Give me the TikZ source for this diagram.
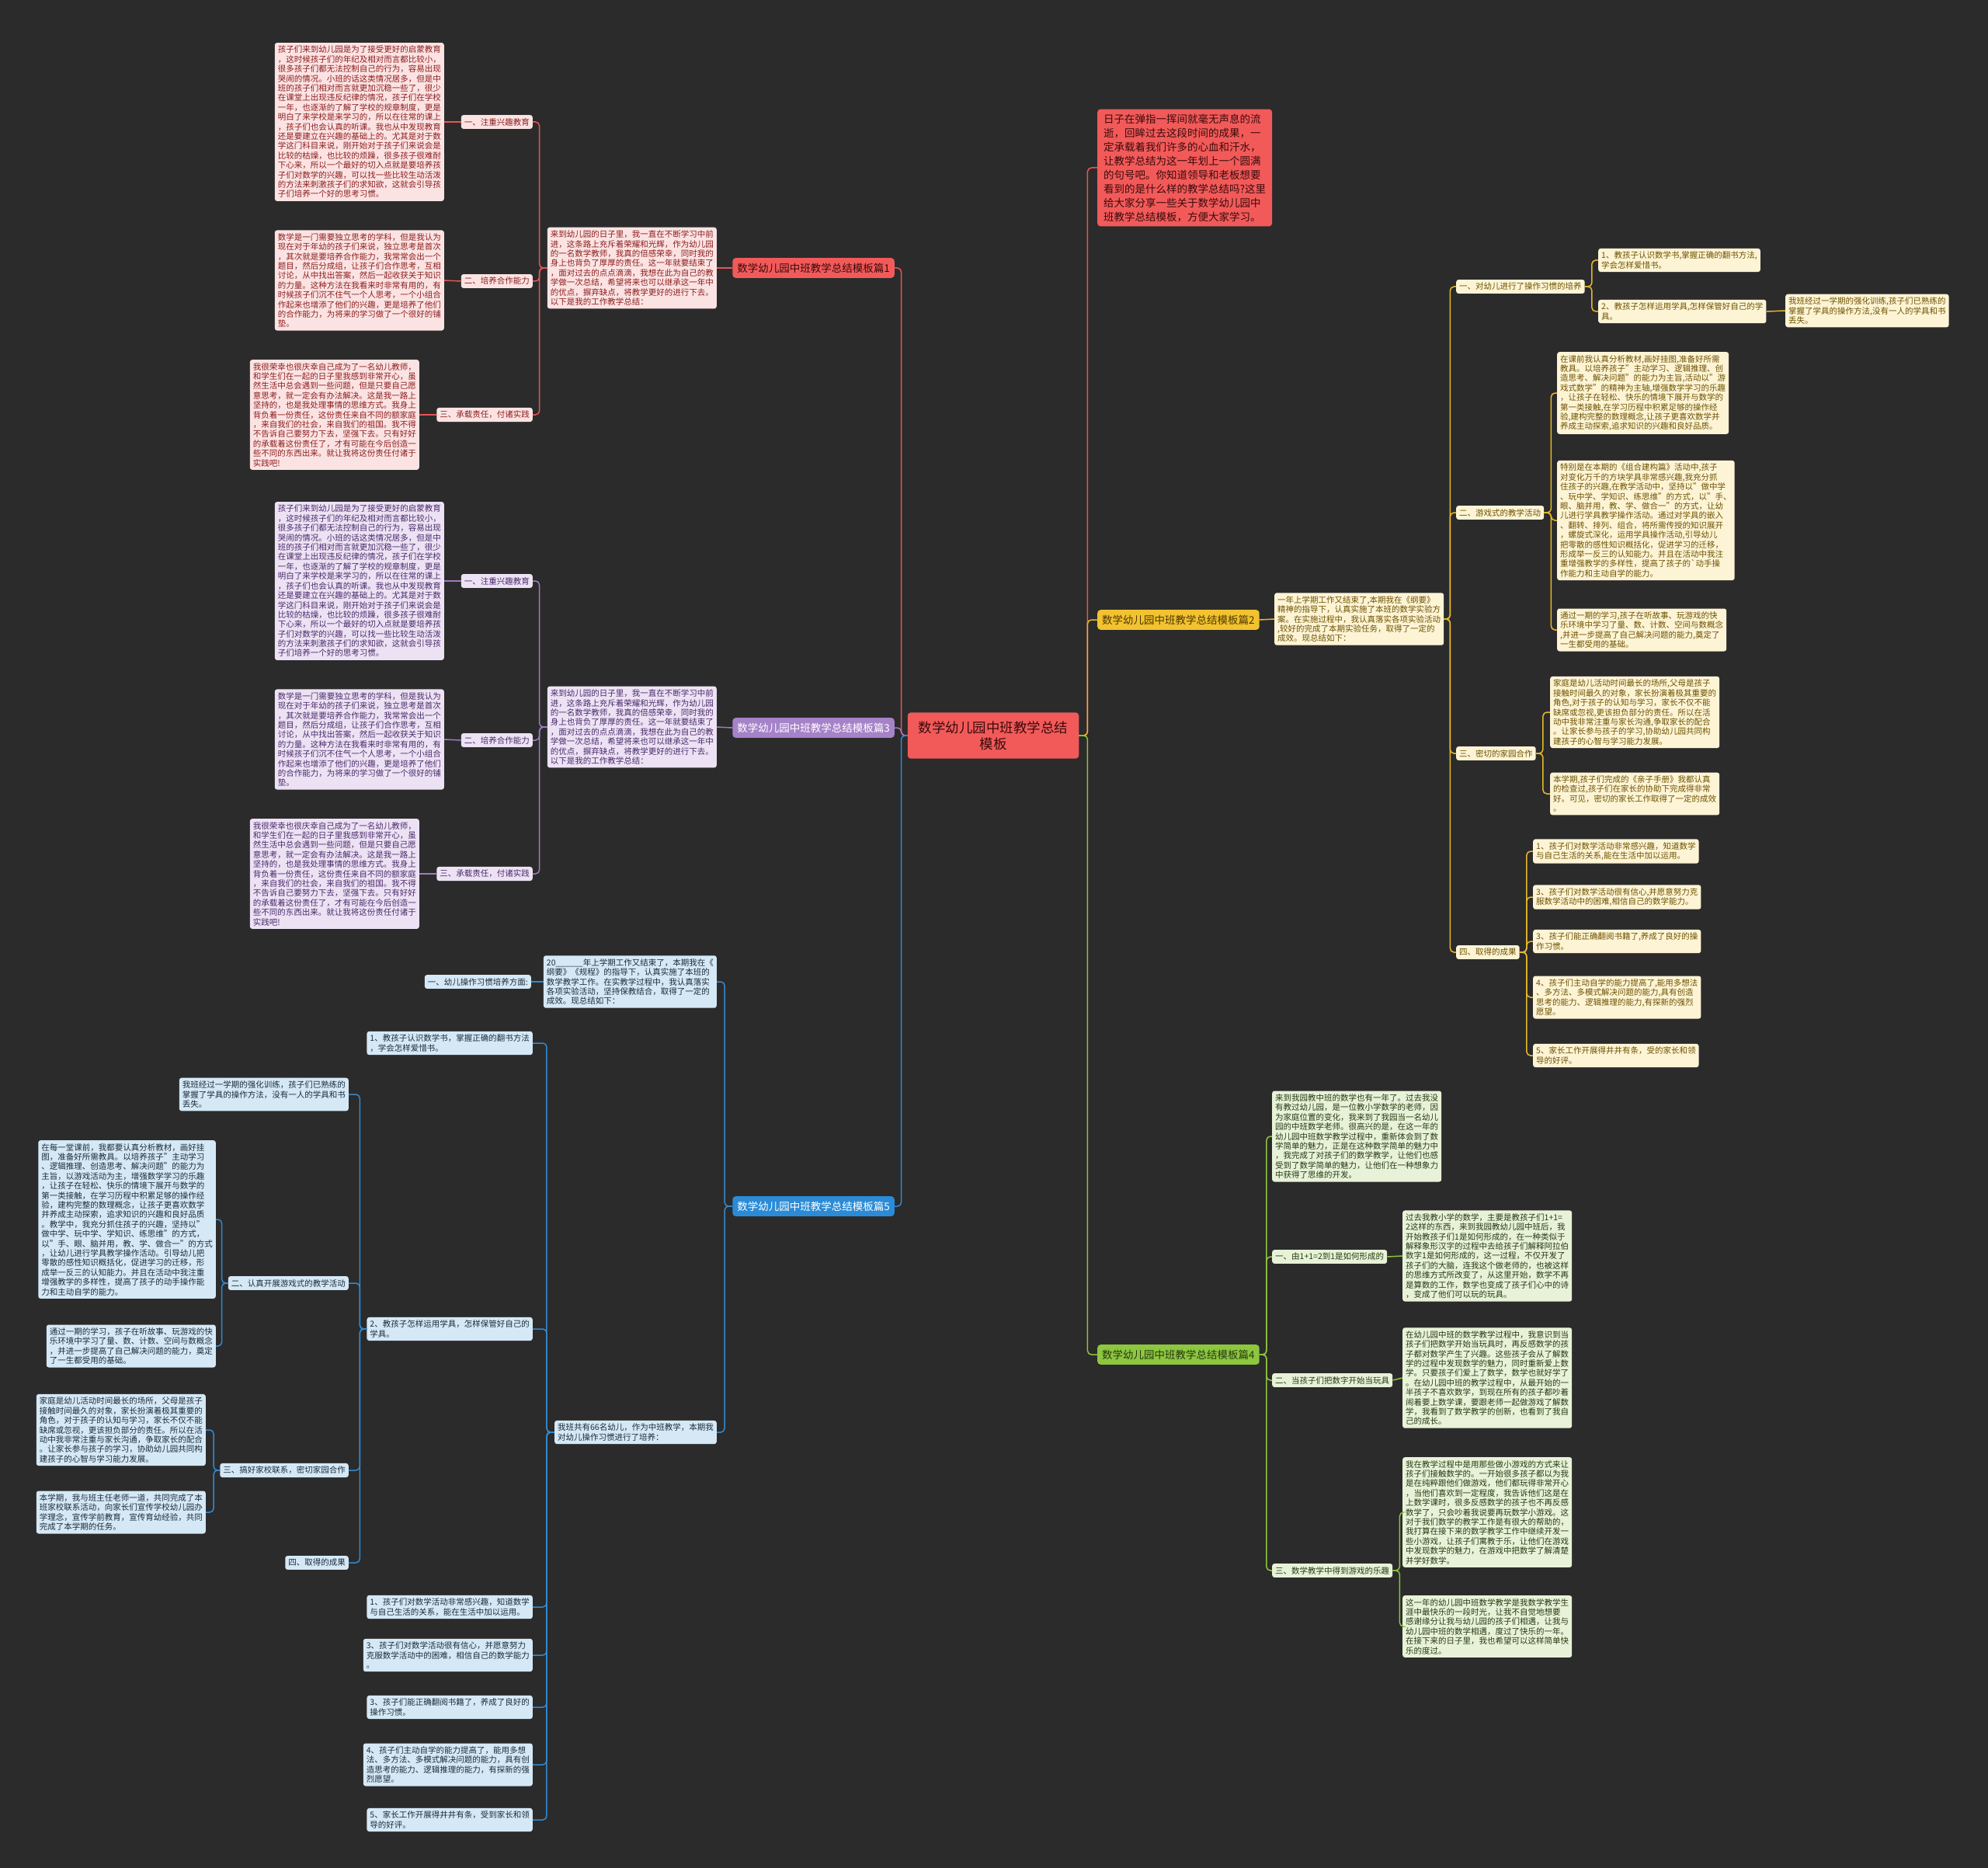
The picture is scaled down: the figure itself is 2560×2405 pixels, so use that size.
\documentclass[tikz,border=0pt]{standalone}
\usepackage{fontspec}
\setmainfont{Noto Sans CJK SC}
\usepackage{xcolor}
\usepackage{tikz}
\definecolor{bgc}{HTML}{2B2B2B}
\definecolor{redmain}{HTML}{F25A5A}
\definecolor{redfill}{HTML}{FCE3E3}
\definecolor{redtext}{HTML}{8B1E1E}
\definecolor{redhtext}{HTML}{3A0A0A}
\definecolor{redline}{HTML}{E85555}
\definecolor{purmain}{HTML}{A682C8}
\definecolor{purfill}{HTML}{ECE2F4}
\definecolor{purtext}{HTML}{4B2A6A}
\definecolor{purline}{HTML}{9D7BC0}
\definecolor{blumain}{HTML}{2B8BD6}
\definecolor{blufill}{HTML}{D5E8F5}
\definecolor{blutext}{HTML}{1C2C3C}
\definecolor{bluline}{HTML}{3389CF}
\definecolor{yelmain}{HTML}{F2C230}
\definecolor{yelfill}{HTML}{FDF4D6}
\definecolor{yeltext}{HTML}{6E5200}
\definecolor{yelline}{HTML}{E6B82A}
\definecolor{grnmain}{HTML}{8DC63F}
\definecolor{grnfill}{HTML}{E7F2D8}
\definecolor{grntext}{HTML}{263A12}
\definecolor{grnline}{HTML}{8CC43E}
\tikzset{
  txt/.style   = {rectangle, rounded corners=3pt, align=left, inner xsep=4pt,
                  inner ysep=4pt, font=\fontsize{10.5}{12.4}\selectfont},
  rbox/.style  = {txt, fill=redfill, text=redtext},
  pbox/.style  = {txt, fill=purfill, text=purtext},
  bbox/.style  = {txt, fill=blufill, text=blutext},
  ybox/.style  = {txt, fill=yelfill, text=yeltext},
  gbox/.style  = {txt, fill=grnfill, text=grntext},
  head/.style  = {rectangle, rounded corners=4pt, inner xsep=6pt, inner ysep=6.5pt,
                  font=\fontsize{13.5}{16}\selectfont},
  rhead/.style = {head, fill=redmain, text=redhtext},
  phead/.style = {head, fill=purmain, text=white},
  bhead/.style = {head, fill=blumain, text=white},
  yhead/.style = {head, fill=yelmain, text=yeltext!70!black},
  ghead/.style = {head, fill=grnmain, text=grntext},
  root/.style  = {rectangle, rounded corners=4pt, fill=redmain, text=redhtext,
                  align=center, inner xsep=14pt, inner ysep=11pt,
                  font=\fontsize{17.5}{21}\selectfont},
  lft/.style   = {anchor=east},
  rgt/.style   = {anchor=west},
  link/.style  = {rounded corners=5pt, line width=1.5pt},
  rlink/.style = {link, draw=redline},
  plink/.style = {link, draw=purline},
  blink/.style = {link, draw=bluline},
  ylink/.style = {link, draw=yelline},
  glink/.style = {link, draw=grnline}
}
% texts shared by the first and the third branch
\newcommand{\introText}{来到幼儿园的日子里，我一直在不断学习中前\\进，这条路上充斥着荣耀和光辉，作为幼儿园\\的一名数学教师，我真的倍感荣幸，同时我的\\身上也背负了厚厚的责任。这一年就要结束了\\，面对过去的点点滴滴，我想在此为自己的教\\学做一次总结，希望将来也可以继承这一年中\\的优点，摒弃缺点，将教学更好的进行下去。\\以下是我的工作教学总结：}
\newcommand{\interestText}{孩子们来到幼儿园是为了接受更好的启蒙教育\\，这时候孩子们的年纪及相对而言都比较小，\\很多孩子们都无法控制自己的行为，容易出现\\哭闹的情况。小班的话这类情况居多，但是中\\班的孩子们相对而言就更加沉稳一些了，很少\\在课堂上出现违反纪律的情况，孩子们在学校\\一年，也逐渐的了解了学校的规章制度，更是\\明白了来学校是来学习的，所以在往常的课上\\，孩子们也会认真的听课。我也从中发现教育\\还是要建立在兴趣的基础上的。尤其是对于数\\学这门科目来说，刚开始对于孩子们来说会是\\比较的枯燥，也比较的烦躁，很多孩子很难耐\\下心来，所以一个最好的切入点就是要培养孩\\子们对数学的兴趣，可以找一些比较生动活泼\\的方法来刺激孩子们的求知欲，这就会引导孩\\子们培养一个好的思考习惯。}
\newcommand{\teamText}{数学是一门需要独立思考的学科，但是我认为\\现在对于年幼的孩子们来说，独立思考是首次\\，其次就是要培养合作能力，我常常会出一个\\题目，然后分成组，让孩子们合作思考，互相\\讨论，从中找出答案，然后一起收获关于知识\\的力量。这种方法在我看来时非常有用的，有\\时候孩子们沉不住气一个人思考，一个小组合\\作起来也增添了他们的兴趣，更是培养了他们\\的合作能力，为将来的学习做了一个很好的铺\\垫。}
\newcommand{\dutyText}{我很荣幸也很庆幸自己成为了一名幼儿教师，\\和学生们在一起的日子里我感到非常开心，虽\\然生活中总会遇到一些问题，但是只要自己愿\\意思考，就一定会有办法解决。这是我一路上\\坚持的，也是我处理事情的思维方式。我身上\\背负着一份责任，这份责任来自不同的额家庭\\，来自我们的社会，来自我们的祖国。我不得\\不告诉自己要努力下去，坚强下去。只有好好\\的承载着这份责任了，才有可能在今后创造一\\些不同的东西出来。就让我将这份责任付诸于\\实践吧!}
\begin{document}
\begin{tikzpicture}[x=1pt, y=-1pt]
  \useasboundingbox (0,0) rectangle (2560,2405);
  \fill[bgc] (0,0) rectangle (2560,2405);

  \node[root] (root) at (1279,947) {数学幼儿园中班教学总结\\模板};

  % branch 1
  \node[rhead, lft] (h1)     at (1152,345) {数学幼儿园中班教学总结模板篇1};
  \node[rbox, lft]  (intro1) at (923,345) {\introText};
  \node[rbox, lft]  (l1a)    at (686,157) {一、注重兴趣教育};
  \node[rbox, lft]  (t1a)    at (572,157) {\interestText};
  \node[rbox, lft]  (l1b)    at (686,362) {二、培养合作能力};
  \node[rbox, lft]  (t1b)    at (572,361) {\teamText};
  \node[rbox, lft]  (l1c)    at (686,534) {三、承载责任，付诸实践};
  \node[rbox, lft]  (t1c)    at (540,534) {\dutyText};

  % branch 3
  \node[phead, lft] (h3)     at (1152,937) {数学幼儿园中班教学总结模板篇3};
  \node[pbox, lft]  (intro3) at (923,936) {\introText};
  \node[pbox, lft]  (l3a)    at (686,748) {一、注重兴趣教育};
  \node[pbox, lft]  (t3a)    at (572,748) {\interestText};
  \node[pbox, lft]  (l3b)    at (686,953) {二、培养合作能力};
  \node[pbox, lft]  (t3b)    at (572,952) {\teamText};
  \node[pbox, lft]  (l3c)    at (686,1125) {三、承载责任，付诸实践};
  \node[pbox, lft]  (t3c)    at (540,1125) {\dutyText};

  % branch 5
  \node[bhead, lft] (h5)     at (1152,1553) {数学幼儿园中班教学总结模板篇5};
  \node[bbox, lft]  (intro5) at (923,1264) {20\_\_\_\_\_\_年上学期工作又结束了，本期我在《\\纲要》《规程》的指导下，认真实施了本班的\\数学教学工作。在实教学过程中，我认真落实\\各项实验活动，坚持保教结合，取得了一定的\\成效。现总结如下：};
  \node[bbox, lft]  (l5a)    at (684,1264) {一、幼儿操作习惯培养方面:};
  \node[bbox, lft]  (b5)     at (923,1844) {我班共有66名幼儿，作为中班教学，本期我\\对幼儿操作习惯进行了培养：};
  \node[bbox, lft]  (i5a)    at (686,1343) {1、教孩子认识数学书，掌握正确的翻书方法\\，学会怎样爱惜书。};
  \node[bbox, lft]  (i5b)    at (686,1711) {2、教孩子怎样运用学具，怎样保管好自己的\\学具。};
  \node[bbox, lft]  (t5w)    at (449,1409) {我班经过一学期的强化训练，孩子们已熟练的\\掌握了学具的操作方法，没有一人的学具和书\\丢失。};
  \node[bbox, lft]  (l5b)    at (449,1652) {二、认真开展游戏式的教学活动};
  \node[bbox, lft]  (t5b1)   at (278,1570) {在每一堂课前，我都要认真分析教材，画好挂\\图，准备好所需教具。以培养孩子"主动学习\\、逻辑推理、创造思考、解决问题"的能力为\\主旨，以游戏活动为主，增强数学学习的乐趣\\，让孩子在轻松、快乐的情境下展开与数学的\\第一类接触，在学习历程中积累足够的操作经\\验，建构完整的数理概念，让孩子更喜欢数学\\并养成主动探索，追求知识的兴趣和良好品质\\。教学中，我充分抓住孩子的兴趣，坚持以"\\做中学、玩中学、学知识、练思维"的方式，\\以"手、眼、脑并用，教、学、做合一"的方式\\，让幼儿进行学具教学操作活动。引导幼儿把\\零散的感性知识概括化，促进学习的迁移，形\\成举一反三的认知能力。并且在活动中我注重\\增强教学的多样性，提高了孩子的动手操作能\\力和主动自学的能力。};
  \node[bbox, lft]  (t5b2)   at (278,1733) {通过一期的学习，孩子在听故事、玩游戏的快\\乐环境中学习了量、数、计数、空间与数概念\\，并进一步提高了自己解决问题的能力，奠定\\了一生都受用的基础。};
  \node[bbox, lft]  (l5c)    at (449,1893) {三、搞好家校联系，密切家园合作};
  \node[bbox, lft]  (t5c1)   at (265,1841) {家庭是幼儿活动时间最长的场所，父母是孩子\\接触时间最久的对象，家长扮演着极其重要的\\角色，对于孩子的认知与学习，家长不仅不能\\缺席或忽视，更该担负部分的责任。所以在活\\动中我非常注重与家长沟通，争取家长的配合\\。让家长参与孩子的学习，协助幼儿园共同构\\建孩子的心智与学习能力发展。};
  \node[bbox, lft]  (t5c2)   at (265,1947) {本学期，我与班主任老师一道，共同完成了本\\班家校联系活动，向家长们宣传学校幼儿园办\\学理念，宣传学前教育，宣传育幼经验，共同\\完成了本学期的任务。};
  \node[bbox, lft]  (l5d)    at (449,2012) {四、取得的成果};
  \node[bbox, lft]  (r5a)    at (686,2069) {1、孩子们对数学活动非常感兴趣，知道数学\\与自己生活的关系，能在生活中加以运用。};
  \node[bbox, lft]  (r5b)    at (686,2131) {3、孩子们对数学活动很有信心，并愿意努力\\克服数学活动中的困难，相信自己的数学能力\\。};
  \node[bbox, lft]  (r5c)    at (686,2198) {3、孩子们能正确翻阅书籍了，养成了良好的\\操作习惯。};
  \node[bbox, lft]  (r5d)    at (686,2272) {4、孩子们主动自学的能力提高了，能用多想\\法、多方法、多模式解决问题的能力，具有创\\造思考的能力、逻辑推理的能力，有探新的强\\烈愿望。};
  \node[bbox, lft]  (r5e)    at (686,2343) {5、家长工作开展得井井有条，受到家长和领\\导的好评。};

  % top note
  \node[rectangle, rounded corners=4pt, fill=redmain, text=redhtext, align=left,
        inner xsep=8pt, inner ysep=6pt, font=\fontsize{13.5}{18}\selectfont, rgt]
        (note) at (1413,216) {日子在弹指一挥间就毫无声息的流\\逝，回眸过去这段时间的成果，一\\定承载着我们许多的心血和汗水，\\让教学总结为这一年划上一个圆满\\的句号吧。你知道领导和老板想要\\看到的是什么样的教学总结吗?这里\\给大家分享一些关于数学幼儿园中\\班教学总结模板，方便大家学习。};

  % branch 2
  \node[yhead, rgt] (h2)     at (1413,798) {数学幼儿园中班教学总结模板篇2};
  \node[ybox, rgt]  (intro2) at (1641,797) {一年上学期工作又结束了,本期我在《纲要》\\精神的指导下，认真实施了本班的数学实验方\\案。在实施过程中，我认真落实各项实验活动\\,较好的完成了本期实验任务，取得了一定的\\成效。现总结如下：};
  \node[ybox, rgt]  (l2a)    at (1875,369) {一、对幼儿进行了操作习惯的培养};
  \node[ybox, rgt]  (i2a)    at (2058,335) {1、教孩子认识数学书,掌握正确的翻书方法,\\学会怎样爱惜书。};
  \node[ybox, rgt]  (i2b)    at (2058,401) {2、教孩子怎样运用学具,怎样保管好自己的学\\具。};
  \node[ybox, rgt]  (t2w)    at (2299,400) {我班经过一学期的强化训练,孩子们已熟练的\\掌握了学具的操作方法,没有一人的学具和书\\丢失。};
  \node[ybox, rgt]  (l2b)    at (1875,660) {二、游戏式的教学活动};
  \node[ybox, rgt]  (t2b1)   at (2005,506) {在课前我认真分析教材,画好挂图,准备好所需\\教具。以培养孩子"主动学习、逻辑推理、创\\造思考、解决问题"的能力为主旨,活动以"游\\戏式数学"的精神为主轴,增强数学学习的乐趣\\，让孩子在轻松、快乐的情境下展开与数学的\\第一类接触,在学习历程中积累足够的操作经\\验,建构完整的数理概念,让孩子更喜欢数学并\\养成主动探索,追求知识的兴趣和良好品质。};
  \node[ybox, rgt]  (t2b2)   at (2005,670) {特别是在本期的《组合建构篇》活动中,孩子\\对变化万千的方块学具非常感兴趣,我充分抓\\住孩子的兴趣,在教学活动中，坚持以"做中学\\、玩中学、学知识、练思维"的方式，以"手、\\眼、脑并用，教、学、做合一"的方式，让幼\\儿进行学具教学操作活动。通过对学具的嵌入\\、翻转、排列、组合，将所需传授的知识展开\\，螺旋式深化，运用学具操作活动,引导幼儿\\把零散的感性知识概括化，促进学习的迁移，\\形成举一反三的认知能力。并且在活动中我注\\重增强教学的多样性，提高了孩子的\textasciigrave 动手操\\作能力和主动自学的能力。};
  \node[ybox, rgt]  (t2b3)   at (2005,811) {通过一期的学习,孩子在听故事、玩游戏的快\\乐环境中学习了量、数、计数、空间与数概念\\,并进一步提高了自己解决问题的能力,奠定了\\一生都受用的基础。};
  \node[ybox, rgt]  (l2c)    at (1875,970) {三、密切的家园合作};
  \node[ybox, rgt]  (t2c1)   at (1996,917) {家庭是幼儿活动时间最长的场所,父母是孩子\\接触时间最久的对象，家长扮演着极其重要的\\角色,对于孩子的认知与学习，家长不仅不能\\缺席或忽视,更该担负部分的责任。所以在活\\动中我非常注重与家长沟通,争取家长的配合\\。让家长参与孩子的学习,协助幼儿园共同构\\建孩子的心智与学习能力发展。};
  \node[ybox, rgt]  (t2c2)   at (1996,1022) {本学期,孩子们完成的《亲子手册》我都认真\\的检查过,孩子们在家长的协助下完成得非常\\好。可见，密切的家长工作取得了一定的成效\\。};
  \node[ybox, rgt]  (l2d)    at (1875,1226) {四、取得的成果};
  \node[ybox, rgt]  (r2a)    at (1974,1096) {1、孩子们对数学活动非常感兴趣，知道数学\\与自己生活的关系,能在生活中加以运用。};
  \node[ybox, rgt]  (r2b)    at (1974,1155) {3、孩子们对数学活动很有信心,并愿意努力克\\服数学活动中的困难,相信自己的数学能力。};
  \node[ybox, rgt]  (r2c)    at (1974,1212) {3、孩子们能正确翻阅书籍了,养成了良好的操\\作习惯。};
  \node[ybox, rgt]  (r2d)    at (1974,1284) {4、孩子们主动自学的能力提高了,能用多想法\\、多方法、多模式解决问题的能力,具有创造\\思考的能力、逻辑推理的能力,有探新的强烈\\愿望。};
  \node[ybox, rgt]  (r2e)    at (1974,1359) {5、家长工作开展得井井有条，受的家长和领\\导的好评。};

  % branch 4
  \node[ghead, rgt] (h4)     at (1413,1744) {数学幼儿园中班教学总结模板篇4};
  \node[gbox, rgt]  (t4i)    at (1638,1463) {来到我园教中班的数学也有一年了。过去我没\\有教过幼儿园，是一位教小学数学的老师，因\\为家庭位置的变化，我来到了我园当一名幼儿\\园的中班数学老师。很高兴的是，在这一年的\\幼儿园中班数学教学过程中，重新体会到了数\\学简单的魅力，正是在这种数学简单的魅力中\\，我完成了对孩子们的数学教学，让他们也感\\受到了数学简单的魅力，让他们在一种想象力\\中获得了思维的开发。};
  \node[gbox, rgt]  (l4a)    at (1638,1618) {一、由1+1=2到1是如何形成的};
  \node[gbox, rgt]  (t4a)    at (1806,1617) {过去我教小学的数学，主要是教孩子们1+1=\\2这样的东西，来到我园教幼儿园中班后，我\\开始教孩子们1是如何形成的，在一种类似于\\解释象形汉字的过程中去给孩子们解释阿拉伯\\数字1是如何形成的，这一过程，不仅开发了\\孩子们的大脑，连我这个做老师的，也被这样\\的思维方式所改变了，从这里开始，数学不再\\是算数的工作，数学也变成了孩子们心中的诗\\，变成了他们可以玩的玩具。};
  \node[gbox, rgt]  (l4b)    at (1638,1777) {二、当孩子们把数字开始当玩具};
  \node[gbox, rgt]  (t4b)    at (1806,1774) {在幼儿园中班的数学教学过程中，我意识到当\\孩子们把数学开始当玩具时，再反感数学的孩\\子都对数学产生了兴趣。这些孩子会从了解数\\学的过程中发现数学的魅力，同时重新爱上数\\学。只要孩子们爱上了数学，数学也就好学了\\。在幼儿园中班的教学过程中，从最开始的一\\半孩子不喜欢数学，到现在所有的孩子都吵着\\闹着要上数学课，要跟老师一起做游戏了解数\\学，我看到了数学教学的创新，也看到了我自\\己的成长。};
  \node[gbox, rgt]  (l4c)    at (1638,2022) {三、数学教学中得到游戏的乐趣};
  \node[gbox, rgt]  (t4c1)   at (1806,1947) {我在教学过程中是用那些做小游戏的方式来让\\孩子们接触数学的。一开始很多孩子都以为我\\是在纯粹跟他们做游戏，他们都玩得非常开心\\，当他们喜欢到一定程度，我告诉他们这是在\\上数学课时，很多反感数学的孩子也不再反感\\数学了，只会吵着我说要再玩数学小游戏。这\\对于我们数学的教学工作是有很大的帮助的，\\我打算在接下来的数学教学工作中继续开发一\\些小游戏，让孩子们寓教于乐，让他们在游戏\\中发现数学的魅力，在游戏中把数学了解清楚\\并学好数学。};
  \node[gbox, rgt]  (t4c2)   at (1806,2094) {这一年的幼儿园中班数学教学是我数学教学生\\涯中最快乐的一段时光，让我不自觉地想要\\感谢缘分让我与幼儿园的孩子们相遇，让我与\\幼儿园中班的数学相遇，度过了快乐的一年。\\在接下来的日子里，我也希望可以这样简单快\\乐的度过。};

  % root links
  \draw[rlink] (root.west) -- ++(-8,0) |- (h1.east);
  \draw[plink] (root.west) -- ++(-8,0) |- (h3.east);
  \draw[blink] (root.west) -- ++(-8,0) |- (h5.east);
  \draw[rlink] (root.east) -- ++(11,0) |- (note.west);
  \draw[ylink] (root.east) -- ++(11,0) |- (h2.west);
  \draw[glink] (root.east) -- ++(11,0) |- (h4.west);

  % branch 1 links
  \draw[rlink] (h1.west) -- (intro1.east);
  \draw[rlink] (intro1.west) -- ++(-10,0) |- (l1a.east);
  \draw[rlink] (intro1.west) -- ++(-10,0) |- (l1b.east);
  \draw[rlink] (intro1.west) -- ++(-10,0) |- (l1c.east);
  \draw[rlink] (l1a.west) -- (t1a.east);
  \draw[rlink] (l1b.west) -- (t1b.east);
  \draw[rlink] (l1c.west) -- (t1c.east);

  % branch 3 links
  \draw[plink] (h3.west) -- (intro3.east);
  \draw[plink] (intro3.west) -- ++(-10,0) |- (l3a.east);
  \draw[plink] (intro3.west) -- ++(-10,0) |- (l3b.east);
  \draw[plink] (intro3.west) -- ++(-10,0) |- (l3c.east);
  \draw[plink] (l3a.west) -- (t3a.east);
  \draw[plink] (l3b.west) -- (t3b.east);
  \draw[plink] (l3c.west) -- (t3c.east);

  % branch 5 links
  \draw[blink] (h5.west) -- ++(-10,0) |- (intro5.east);
  \draw[blink] (h5.west) -- ++(-10,0) |- (b5.east);
  \draw[blink] (intro5.west) -- (l5a.east);
  \draw[blink] (b5.west) -- ++(-10,0) |- (i5a.east);
  \draw[blink] (b5.west) -- ++(-10,0) |- (i5b.east);
  \draw[blink] (b5.west) -- ++(-10,0) |- (r5a.east);
  \draw[blink] (b5.west) -- ++(-10,0) |- (r5b.east);
  \draw[blink] (b5.west) -- ++(-10,0) |- (r5c.east);
  \draw[blink] (b5.west) -- ++(-10,0) |- (r5d.east);
  \draw[blink] (b5.west) -- ++(-10,0) |- (r5e.east);
  \draw[blink] (i5b.west) -- ++(-9,0) |- (t5w.east);
  \draw[blink] (i5b.west) -- ++(-9,0) |- (l5b.east);
  \draw[blink] (i5b.west) -- ++(-9,0) |- (l5c.east);
  \draw[blink] (i5b.west) -- ++(-9,0) |- (l5d.east);
  \draw[blink] (l5b.west) -- ++(-8,0) |- (t5b1.east);
  \draw[blink] (l5b.west) -- ++(-8,0) |- (t5b2.east);
  \draw[blink] (l5c.west) -- ++(-8,0) |- (t5c1.east);
  \draw[blink] (l5c.west) -- ++(-8,0) |- (t5c2.east);

  % branch 2 links
  \draw[ylink] (h2.east) -- (intro2.west);
  \draw[ylink] (intro2.east) -- ++(8,0) |- (l2a.west);
  \draw[ylink] (intro2.east) -- ++(8,0) |- (l2b.west);
  \draw[ylink] (intro2.east) -- ++(8,0) |- (l2c.west);
  \draw[ylink] (intro2.east) -- ++(8,0) |- (l2d.west);
  \draw[ylink] (l2a.east) -- ++(9,0) |- (i2a.west);
  \draw[ylink] (l2a.east) -- ++(9,0) |- (i2b.west);
  \draw[ylink] (i2b.east) -- (t2w.west);
  \draw[ylink] (l2b.east) -- ++(9,0) |- (t2b1.west);
  \draw[ylink] (l2b.east) -- ++(9,0) |- (t2b2.west);
  \draw[ylink] (l2b.east) -- ++(9,0) |- (t2b3.west);
  \draw[ylink] (l2c.east) -- ++(9,0) |- (t2c1.west);
  \draw[ylink] (l2c.east) -- ++(9,0) |- (t2c2.west);
  \draw[ylink] (l2d.east) -- ++(9,0) |- (r2a.west);
  \draw[ylink] (l2d.east) -- ++(9,0) |- (r2b.west);
  \draw[ylink] (l2d.east) -- ++(9,0) |- (r2c.west);
  \draw[ylink] (l2d.east) -- ++(9,0) |- (r2d.west);
  \draw[ylink] (l2d.east) -- ++(9,0) |- (r2e.west);

  % branch 4 links
  \draw[glink] (h4.east) -- ++(9,0) |- (t4i.west);
  \draw[glink] (h4.east) -- ++(9,0) |- (l4a.west);
  \draw[glink] (h4.east) -- ++(9,0) |- (l4b.west);
  \draw[glink] (h4.east) -- ++(9,0) |- (l4c.west);
  \draw[glink] (l4a.east) -- (t4a.west);
  \draw[glink] (l4b.east) -- (t4b.west);
  \draw[glink] (l4c.east) -- ++(9,0) |- (t4c1.west);
  \draw[glink] (l4c.east) -- ++(9,0) |- (t4c2.west);
\end{tikzpicture}
\end{document}
